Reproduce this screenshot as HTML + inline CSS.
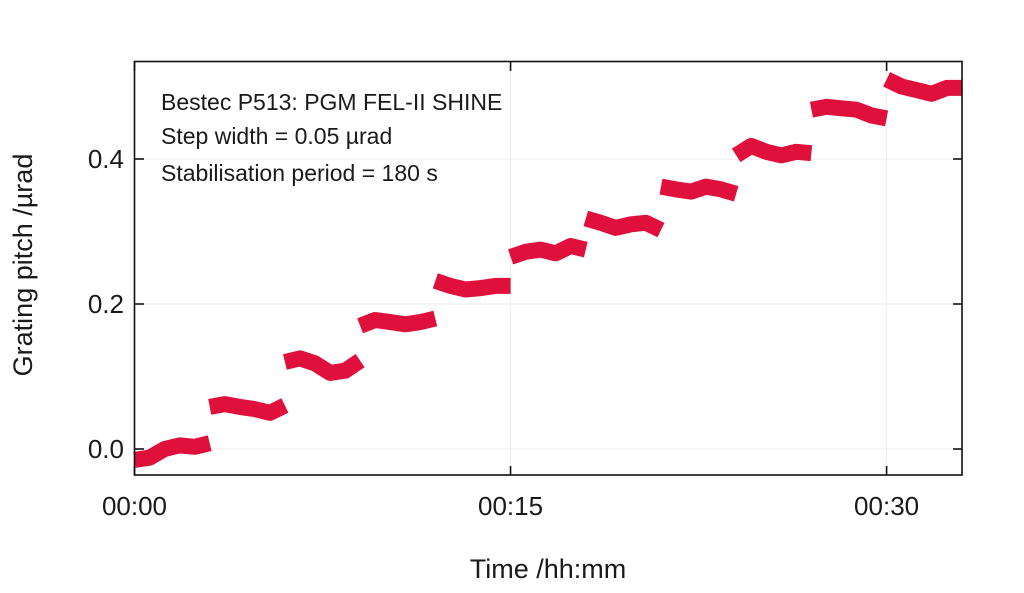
<!DOCTYPE html>
<html><head><meta charset="utf-8"><style>
html,body{margin:0;padding:0;background:#fff;}
svg text{font-family:"Liberation Sans",sans-serif;fill:#1a1a1a;}
</style></head><body>
<svg id="chart" width="1024" height="588" viewBox="0 0 1024 588" xmlns="http://www.w3.org/2000/svg">
<g id="grid"></g>
<g id="series"></g>
<rect x="134.5" y="61.5" width="827.5" height="413.5" fill="none" stroke="#111" stroke-width="1.6"/>
<g id="axes"></g>
<g font-size="23">
<text x="161" y="110">Bestec P513: PGM FEL-II SHINE</text>
<text x="161" y="144">Step width = 0.05 µrad</text>
<text x="161" y="181">Stabilisation period = 180 s</text>
</g>
<text x="548" y="578" font-size="27" text-anchor="middle">Time /hh:mm</text>
<text transform="translate(32,265) rotate(-90)" font-size="27" text-anchor="middle">Grating pitch /µrad</text>
</svg>
<script>
const xTickMinutes = [0, 15, 30];
const xTickLabels = ["00:00", "00:15", "00:30"];
const yTickValues = [0.0, 0.2, 0.4];
const yTickLabels = ["0.0", "0.2", "0.4"];
const stepStartMinutes = [0, 3, 6, 9, 12, 15, 18, 21, 24, 27, 30];
const stepDurationMinutes = 3;
const stepValues = [
  [-0.015, -0.012, 0.0, 0.005, 0.003, 0.008],
  [0.058, 0.062, 0.058, 0.055, 0.05, 0.06],
  [0.12, 0.125, 0.118, 0.105, 0.108, 0.122],
  [0.17, 0.178, 0.175, 0.172, 0.175, 0.18],
  [0.232, 0.225, 0.22, 0.222, 0.225, 0.225],
  [0.265, 0.272, 0.275, 0.27, 0.28, 0.275],
  [0.318, 0.312, 0.305, 0.31, 0.312, 0.302],
  [0.362, 0.358, 0.355, 0.362, 0.358, 0.352],
  [0.405, 0.418, 0.41, 0.405, 0.41, 0.408],
  [0.468, 0.472, 0.47, 0.468, 0.46, 0.456],
  [0.51, 0.5, 0.495, 0.49, 0.498, 0.498]
];
const NS = "http://www.w3.org/2000/svg";
const X0 = 134.5, PXMIN = 25.07;
function xScale(m){ return X0 + m * PXMIN; }
function yScale(v){ return 449 - 725 * v; }
const grid = document.getElementById('grid');
const axes = document.getElementById('axes');
const series = document.getElementById('series');
function mk(tag, attrs, parent){ const e = document.createElementNS(NS, tag); for (const k in attrs) e.setAttribute(k, attrs[k]); parent.appendChild(e); return e; }
xTickMinutes.forEach((m, i) => {
  const x = xScale(m);
  const g = mk('line', {x1:x, x2:x, y1:62, y2:475, stroke:'#ececec', 'stroke-width':1}, grid);
  
  
  const t = mk('line', {x1:x, x2:x, y1:475, y2:466, stroke:'#111', 'stroke-width':1.6}, axes);
  
  
  const t2 = mk('line', {x1:x, x2:x, y1:62, y2:71, stroke:'#111', 'stroke-width':1.6}, axes);
  
  
  const lb = mk('text', {x:x, y:515, 'font-size':26, 'text-anchor':'middle'}, axes);
  lb.textContent = xTickLabels[i];
  
  
});
yTickValues.forEach((v, i) => {
  const y = yScale(v);
  const g = mk('line', {x1:135, x2:962, y1:y, y2:y, stroke:'#ececec', 'stroke-width':1}, grid);
  
  
  const t = mk('line', {x1:135, x2:144, y1:y, y2:y, stroke:'#111', 'stroke-width':1.6}, axes);
  
  
  const t2 = mk('line', {x1:953, x2:962, y1:y, y2:y, stroke:'#111', 'stroke-width':1.6}, axes);
  
  
  const lb = mk('text', {x:124, y:y + 9, 'font-size':26, 'text-anchor':'end'}, axes);
  lb.textContent = yTickLabels[i];
  
  
});
stepValues.forEach((vals, s) => {
  const n = vals.length;
  const pts = vals.map((v, j) => {
    const m = Math.min(33, stepStartMinutes[s] + stepDurationMinutes * j / (n - 1));
    return xScale(m).toFixed(1) + ',' + yScale(v).toFixed(1);
  });
  const pl = mk('polyline', {points: pts.join(' '), fill:'none', stroke:'#e0103c', 'stroke-width':16, 'stroke-linejoin':'round', 'stroke-linecap':'butt'}, series);
  
  
});
</script>
</body></html>
